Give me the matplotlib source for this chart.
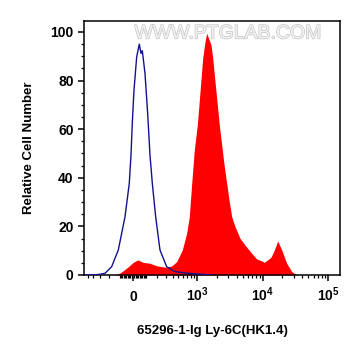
import numpy as np
import matplotlib
matplotlib.use("Agg")
import matplotlib.pyplot as plt
import matplotlib.patheffects as pe
from matplotlib.ticker import FixedLocator, NullFormatter

plt.rcParams['font.family'] = ['Liberation Sans', 'DejaVu Sans']
plt.rcParams['font.weight'] = 'bold'
plt.rcParams['mathtext.fontset'] = 'custom'
plt.rcParams['mathtext.rm'] = 'Liberation Sans:bold'
plt.rcParams['mathtext.it'] = 'Liberation Sans:bold'
plt.rcParams['mathtext.bf'] = 'Liberation Sans:bold'

# Isotype control (blue outline)
blue_x = [-572, -374, -304, -243, -174, -114, -60, -27.6, -14.9, -5.2, 7.4, 27.6,
          47.3, 60.3, 70.4, 91.9, 114, 134, 155, 187, 232, 313, 438, 640, 921, 1317, 1688]
blue_y = [0, 0.1, 0.3, 0.7, 3.4, 10.3, 24, 37.7, 49.4, 62.4, 76, 89.8,
          95, 91.2, 92.3, 83, 66.5, 49.4, 37.7, 24, 10.3, 3.4, 1.4, 0.8, 0.5, 0.2, 0]

# Stained sample (red filled)
red_x = [-143, -100, -68, -35, 2.2, 35, 78, 134, 197, 291, 385, 468, 579, 681, 750,
         818, 898, 1001, 1102, 1214, 1317, 1399, 1491, 1630, 1731, 1945, 2185, 2428,
         2606, 2835, 3074, 3380, 3795, 4524, 5392, 6824, 8133, 9693, 10620, 13430,
         15080, 16990, 19550, 23300, 27770, 33100]
red_y = [0, 0.8, 2, 3.4, 5.2, 6.2, 5.2, 4.8, 3.8, 3.2, 3.7, 5.5, 10.3, 17.2, 24,
         37.7, 51.4, 61.7, 75.4, 89.2, 96, 99.5, 97.5, 94.7, 89.2, 75.4, 61.7, 51.4,
         44.6, 37.7, 30.9, 24, 19.9, 15.1, 12.3, 8.9, 6.6, 5.8, 5.2, 7.3,
         10.3, 14, 10.3, 4.8, 1.4, 0]

x_ticks = [0, 1e3, 1e4, 1e5]
x_ticklabels = ['0', r'$10^{3}$', r'$10^{4}$', r'$10^{5}$']
y_ticks = [0, 20, 40, 60, 80, 100]
x_label = '65296-1-Ig Ly-6C(HK1.4)'
y_label = 'Relative Cell Number'
watermark = 'WWW.PTGLAB.COM'

W = 212.0
def fwd(x):
    return np.arcsinh(np.asarray(x, dtype=float) / W)
def inv(y):
    return W * np.sinh(np.asarray(y, dtype=float))

fig = plt.figure(figsize=(3.61, 3.56), dpi=100)
ax = fig.add_axes([84/361, (356-275)/356, (340-84)/361, (275-20.7)/356])
ax.set_xscale('function', functions=(fwd, inv))

ax.fill_between(red_x, red_y, 0, color='#ff0000', lw=0, zorder=2)
ax.plot(blue_x, blue_y, color='#12128f', lw=1.0, zorder=3)

ax.set_xlim(-572, 1.51e5)
ax.set_ylim(0, 104.65)

ax.xaxis.set_major_locator(FixedLocator(x_ticks))
ax.set_xticklabels(x_ticklabels)
minors = ([-100 * k for k in range(1, 6)] + [-10 * k for k in range(1, 10)] +
          [10 * k for k in range(1, 10)] + [100 * k for k in range(1, 10)] +
          [1000 * k for k in range(2, 10)] + [10000 * k for k in range(2, 10)])
ax.xaxis.set_minor_locator(FixedLocator(minors))
ax.xaxis.set_minor_formatter(NullFormatter())

ax.yaxis.set_major_locator(FixedLocator(y_ticks))
ax.yaxis.set_minor_locator(FixedLocator(list(range(5, 105, 5))))

ax.tick_params(axis='both', which='major', length=4, width=1.1, labelsize=10)
ax.tick_params(axis='both', which='minor', length=2.2, width=0.9)
ax.tick_params(axis='x', which='major', pad=15)
for lab in ax.get_xticklabels():
    lab.set_verticalalignment('baseline')

for sp in ax.spines.values():
    sp.set_linewidth(1.1)

ax.set_xlabel(x_label, fontsize=9.5, fontweight='bold', labelpad=15)
ax.set_ylabel(y_label, fontsize=9.5, fontweight='bold', labelpad=11)

ax.text(0.5625, 0.948, watermark, transform=ax.transAxes, ha='center', va='center',
        fontsize=14, color='#f2f2f2', fontweight='normal', zorder=1,
        path_effects=[pe.withStroke(linewidth=1.0, foreground='#c4c4c4')])

fig.savefig('out.png', dpi=100)
